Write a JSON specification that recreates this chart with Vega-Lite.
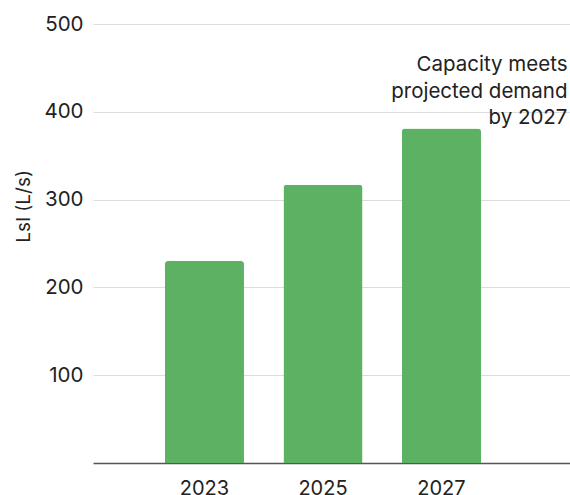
{
  "$schema": "https://vega.github.io/schema/vega-lite/v6.json",
  "width": 477,
  "height": 439,
  "autosize": "none",
  "padding": {"left": 93, "top": 24, "right": 0, "bottom": 32},
  "background": "white",
  "config": {
    "view": {"stroke": null},
    "font": "Inter"
  },
  "data": {
    "values": [
      {"year": "2023", "lsi": 230},
      {"year": "2025", "lsi": 317},
      {"year": "2027", "lsi": 381}
    ]
  },
  "layer": [
    {
      "mark": {"type": "bar", "color": "#5cb262", "cornerRadiusTopLeft": 3, "cornerRadiusTopRight": 3},
      "encoding": {
        "x": {
          "field": "year",
          "type": "nominal",
          "scale": {"paddingInner": 0.333, "paddingOuter": 0.679, "align": 0.447},
          "axis": {
            "title": null,
            "labelAngle": 0,
            "labelFontSize": 20,
            "labelColor": "#222",
            "labelPadding": 15,
            "ticks": false,
            "domainColor": "#555",
            "domainWidth": 1.5,
            "grid": false
          }
        },
        "y": {
          "field": "lsi",
          "type": "quantitative",
          "scale": {"domain": [0, 500], "nice": false},
          "axis": {
            "title": "LsI (L/s)",
            "values": [100, 200, 300, 400, 500],
            "labelFontSize": 20.5,
            "labelColor": "#222",
            "labelPadding": 10,
            "ticks": false,
            "domain": false,
            "gridColor": "#dddddd",
            "titleFontSize": 19,
            "titleFontWeight": "normal",
            "titleColor": "#222",
            "titleX": -64,
            "titleY": 182,
            "titleBaseline": "alphabetic",
            "titleAngle": -90
          }
        }
      }
    },
    {
      "data": {"values": [{"year": "2027", "note": ["Capacity meets", "projected demand", "by 2027"]}]},
      "mark": {"type": "text", "align": "right", "baseline": "alphabetic", "dx": 126, "fontSize": 20.5, "lineHeight": 26.5, "color": "#222"},
      "encoding": {
        "x": {"field": "year", "type": "nominal"},
        "y": {"datum": 446},
        "text": {"field": "note"}
      }
    }
  ]
}
